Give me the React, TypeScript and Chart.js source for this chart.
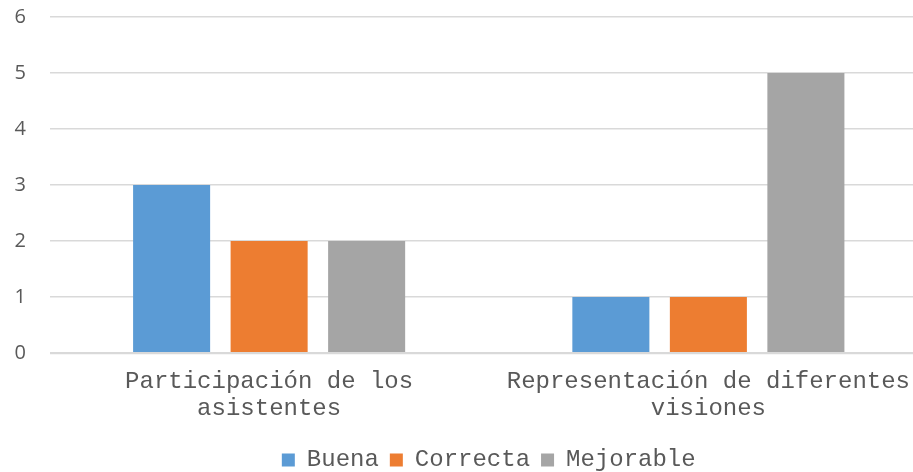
import React, { useEffect, useRef } from "react";
import { Chart, registerables } from "chart.js";

Chart.register(...registerables);

const categories: string[][] = [
  ["Participación de los", "asistentes"],
  ["Representación de diferentes", "visiones"],
];
const buena: number[] = [3, 1];
const correcta: number[] = [2, 1];
const mejorable: number[] = [2, 5];
const yTicks: number[] = [0, 1, 2, 3, 4, 5, 6];

export default function App() {
  const ref = useRef<HTMLCanvasElement | null>(null);

  useEffect(() => {
    if (!ref.current) return;
    const chart = new Chart(ref.current, {
      type: "bar",
      data: {
        labels: categories,
        datasets: [
          { label: "Buena", data: buena, backgroundColor: "#5B9BD5" },
          { label: "Correcta", data: correcta, backgroundColor: "#ED7D31" },
          { label: "Mejorable", data: mejorable, backgroundColor: "#A5A5A5" },
        ],
      },
      options: {
        animation: false,
        responsive: false,
        devicePixelRatio: 1,
        layout: { padding: { top: 17, left: 0, right: 0, bottom: 0 } },
        datasets: {
          bar: { categoryPercentage: 0.666, barPercentage: 0.79 },
        },
        plugins: {
          tooltip: { enabled: false },
          legend: {
            position: "bottom",
            fullSize: false,
            labels: {
              boxWidth: 13,
              boxHeight: 13,
              padding: 11,
              color: "#595959",
              font: { family: "'Liberation Mono', monospace", size: 24 },
            },
          },
        },
        scales: {
          x: {
            grid: { display: false, drawTicks: false },
            border: { display: false },
            ticks: {
              color: "#595959",
              padding: 15,
              autoSkip: false,
              maxRotation: 0,
              font: { family: "'Liberation Mono', monospace", size: 24, lineHeight: 1.125 },
            },
          },
          y: {
            min: yTicks[0],
            max: yTicks[yTicks.length - 1],
            afterFit: (scale: any) => {
              scale.width = 49.5;
              scale.paddingTop = 0;
              scale.paddingBottom = 0;
            },
            afterBuildTicks: (scale: any) => {
              scale.ticks = yTicks.map((v) => ({ value: v }));
            },
            grid: {
              drawTicks: false,
              color: "#d9d9d9",
              lineWidth: (ctx: any) => (ctx.tick && ctx.tick.value === 0 ? 2.2 : 1.6),
            },
            border: { display: false },
            ticks: {
              color: "#595959",
              padding: 23.5,
              font: { family: "'Open Sans', sans-serif", size: 20 },
            },
          },
        },
      },
    });
    return () => chart.destroy();
  }, []);

  return (
    <div
      style={{
        position: "fixed",
        left: 0,
        top: 0,
        width: 913,
        height: 472,
        overflow: "hidden",
        background: "#ffffff",
      }}
    >
      <canvas ref={ref} width={928} height={482} style={{ display: "block" }} />
    </div>
  );
}
